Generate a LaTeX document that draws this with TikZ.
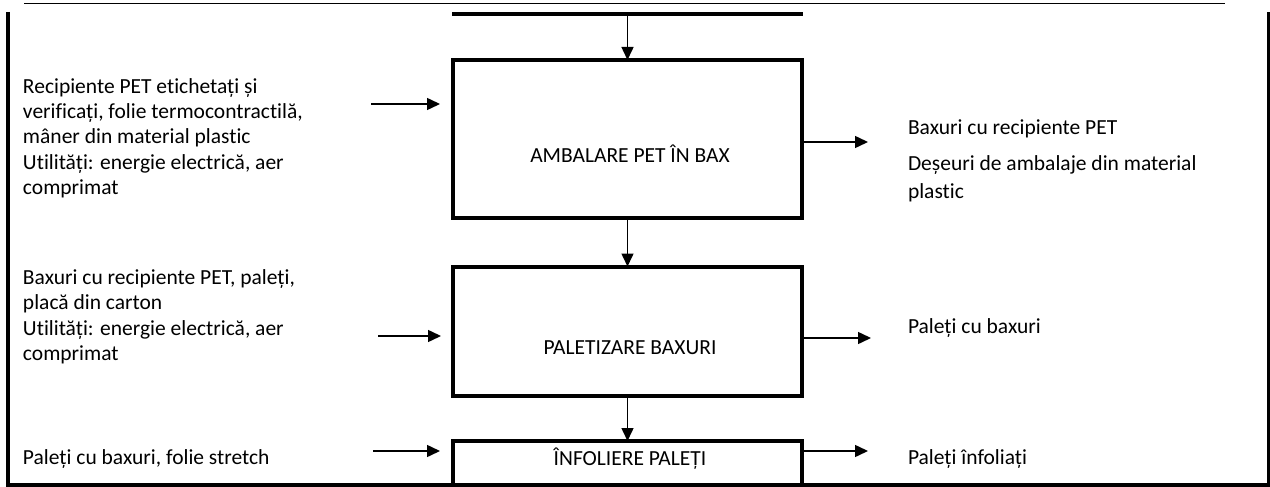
\documentclass[tikz,border=0pt]{standalone}
\usepackage{fontspec}
\setmainfont{Carlito}[Ligatures={NoCommon,NoContextual}]
\usetikzlibrary{arrows.meta}
% stacked lines with a fixed baseline distance; baseline = first line
\newcommand\linestack[2]{\vtop{\baselineskip=#1\lineskiplimit=-10pt\lineskip=0pt #2}}
\begin{document}
\begin{tikzpicture}[x=1pt,y=-1pt,
  every node/.style={inner sep=0pt,outer sep=0pt},
  txt/.style={font=\fontsize{21.5}{25.5}\selectfont},
  procbox/.style={draw,line width=4pt,minimum width=349pt},
  frame/.style={line width=3.5pt},
  flow/.style={line width=1.5pt,-{Triangle[length=13pt,width=12pt]}}]
\useasboundingbox (0,0) rectangle (1270,487);

% outer frame
\draw[line width=1pt] (24,3.5) -- (1225,3.5);
\draw[frame] (8,12) -- (8,485) -- (1268.5,485) -- (1268.5,12);

% process boxes
\node[procbox,minimum height=158pt] (b1) at (627.5,139) {};
\node[procbox,minimum height=129pt] (b2) at (627.5,331) {};
\node[procbox,minimum height=44pt] (b3) at (627.5,463) {};

\node[txt,anchor=base] (t1) at (630,162) {AMBALARE PET ÎN BAX};
\node[txt,anchor=base] (t2) at (630,354) {PALETIZARE BAXURI};
\node[txt,anchor=base] (t3) at (630,465) {ÎNFOLIERE PALEȚI};

% feed bar and vertical flow
\draw[line width=4pt] (452,14) -- (803,14);
\coordinate (feed) at (627.5,16);
\draw[flow] (feed) -- (b1.north);
\draw[flow] (b1.south) -- (b2.north);
\draw[flow] (b2.south) -- (b3.north);

% inputs
\node[txt,anchor=base west] (in1) at (23,93) {\linestack{25.5pt}{%
  \hbox{Recipiente PET etichetați și}
  \hbox{verificați, folie termocontractilă,}
  \hbox{mâner din material plastic}
  \hbox{Utilități: energie electrică, aer}
  \hbox{comprimat}}};
\node[txt,anchor=base west] (in2) at (23,284) {\linestack{25.5pt}{%
  \hbox{Baxuri cu recipiente PET, paleți,}
  \hbox{placă din carton}
  \hbox{Utilități: energie electrică, aer}
  \hbox{comprimat}}};
\node[txt,anchor=base west] (in3) at (23,464) {Paleți cu baxuri, folie stretch};

\coordinate (i1a) at (371,104);  \coordinate (i1b) at (440,104);
\coordinate (i2a) at (378,336);  \coordinate (i2b) at (441,336);
\coordinate (i3a) at (373,451);  \coordinate (i3b) at (440,451);
\draw[flow] (i1a) -- (i1b);
\draw[flow] (i2a) -- (i2b);
\draw[flow] (i3a) -- (i3b);

% outputs
\coordinate (o1) at (868,142);
\coordinate (o2) at (871,338);
\coordinate (o3) at (868,451);
\draw[flow] (b1.east |- o1) -- (o1);
\draw[flow] (b2.east |- o2) -- (o2);
\draw[flow] (b3.east |- o3) -- (o3);

\node[txt,anchor=base west] (out1) at (908,134) {\linestack{29pt}{%
  \hbox{Baxuri cu recipiente PET}
  \vskip7pt
  \hbox{Deșeuri de ambalaje din material}
  \hbox{plastic}}};
\node[txt,anchor=base west] (out2) at (908,333) {Paleți cu baxuri};
\node[txt,anchor=base west] (out3) at (908,464) {Paleți înfoliați};
\end{tikzpicture}
\end{document}
